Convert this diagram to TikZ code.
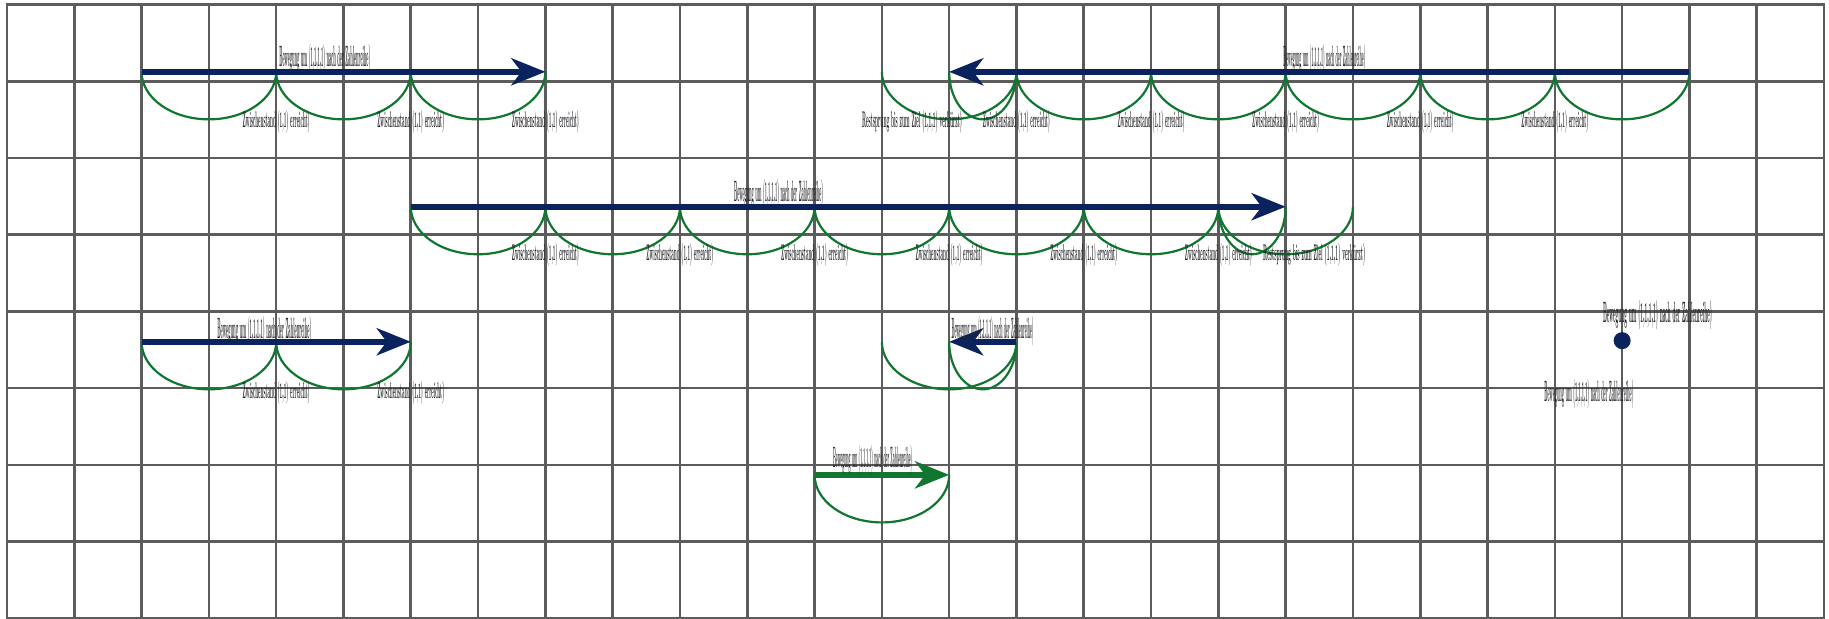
\documentclass[tikz,border=0pt]{standalone}
\usetikzlibrary{arrows.meta}

\definecolor{navyblue}{RGB}{10,35,95}
\definecolor{hopgreen}{RGB}{16,118,48}
\definecolor{gridgray}{RGB}{92,92,92}
\definecolor{inkgray}{RGB}{35,35,40}

% squeezed caption over an arrow, and squeezed value under a hop
\newcommand{\movetext}[1]{\resizebox{#1}{11pt}{\bfseries Bewegung um (1,1,1,1) nach der Zahlenreihe)}}
\newcommand{\hoptext}[1]{\resizebox{#1}{8.5pt}{\bfseries Zwischenstand (1,1) erreicht)}}
\newcommand{\resttext}[1]{\resizebox{#1}{8.5pt}{\bfseries Restsprung bis zum Ziel (1,1,1) verkürzt)}}
% one hop: half ellipse under the line from column #1 to column #2 at level #3
\newcommand{\hop}[3]{\draw[hopline] (#1,#3) arc[start angle=180,end angle=0,x radius={((#2)-(#1))/2},y radius=0.62];}

\begin{document}
\begin{tikzpicture}[x=33.65pt,y=-38.35pt,
  gridline/.style={draw=gridgray,line width=1.3pt,line cap=rect},
  hopline/.style={draw=hopgreen,line width=1.1pt},
  shaft/.style={line width=2.9pt,-{Stealth[length=17pt,width=13.5pt,inset=5pt]}},
  bluearrow/.style={shaft,color=navyblue},
  greenarrow/.style={shaft,color=hopgreen},
  toplbl/.style={anchor=base west,inner sep=0pt,text=inkgray},
  hoplbl/.style={anchor=base,inner sep=0pt,text=inkgray}]

\useasboundingbox (-0.104,-0.0613) rectangle (27.074,8.009);

% background grid
\foreach \i in {0,...,27} \draw[gridline] (\i,0) -- (\i,8);
\foreach \j in {0,...,8} \draw[gridline] (0,\j) -- (27,\j);

\def\ya{0.875}
\def\yb{2.634}
\def\yc{4.395}
\def\yd{6.13}

% hops
\hop{2}{4}{\ya} \hop{4}{6}{\ya} \hop{6}{8}{\ya}
\hop{23}{25}{\ya} \hop{21}{23}{\ya} \hop{19}{21}{\ya} \hop{17}{19}{\ya}
\hop{15}{17}{\ya} \hop{13}{15}{\ya} \hop{14}{15}{\ya}
\hop{6}{8}{\yb} \hop{8}{10}{\yb} \hop{10}{12}{\yb} \hop{12}{14}{\yb}
\hop{14}{16}{\yb} \hop{16}{18}{\yb} \hop{18}{20}{\yb} \hop{18}{19}{\yb}
\hop{2}{4}{\yc} \hop{4}{6}{\yc}
\hop{13}{15}{\yc} \hop{14}{15}{\yc}
\hop{12}{14}{\yd}

% arrows
\coordinate (a1s) at (2,\ya);  \coordinate (a1e) at (8,\ya);
\coordinate (a2s) at (25,\ya); \coordinate (a2e) at (14,\ya);
\coordinate (a3s) at (6,\yb);  \coordinate (a3e) at (19,\yb);
\coordinate (a4s) at (2,\yc);  \coordinate (a4e) at (6,\yc);
\coordinate (a5s) at (15,\yc); \coordinate (a5e) at (14,\yc);
\coordinate (a6s) at (12,\yd); \coordinate (a6e) at (14,\yd);
\draw[bluearrow] (a1s) -- (a1e);
\draw[bluearrow] (a2s) -- (a2e);
\draw[bluearrow] (a3s) -- (a3e);
\draw[bluearrow] (a4s) -- (a4e);
\draw[bluearrow] (a5s) -- (a5e);
\draw[greenarrow] (a6s) -- (a6e);

% single point
\node[circle,fill=navyblue,inner sep=0pt,minimum size=8.5pt] (pt) at (24,4.38) {};

% captions
\node[toplbl] (t1) at (4.04,0.812)  {\movetext{45.5pt}};
\node[toplbl] (t2) at (18.96,0.812) {\movetext{41pt}};
\node[toplbl] (t3) at (10.80,2.572) {\movetext{44.5pt}};
\node[toplbl] (t4) at (3.12,4.346)  {\movetext{47pt}};
\node[toplbl] (t5) at (14.03,4.346) {\movetext{41pt}};
\node[toplbl] (tp) at (23.71,4.15)  {\movetext{54.5pt}};
\node[toplbl] (bp) at (22.84,5.18)  {\movetext{44.5pt}};
\node[toplbl] (tg) at (12.27,6.03)  {\movetext{39.5pt}};

% hop values
\foreach \c in {4,6,8} \node[hoplbl] (ha\c) at (\c,\ya+0.72) {\hoptext{33.5pt}};
\foreach \c in {15,17,19,21,23} \node[hoplbl] (hb\c) at (\c,\ya+0.72) {\hoptext{33.5pt}};
\node[toplbl] (hbr) at (12.70,\ya+0.72) {\resttext{50pt}};
\foreach \c in {8,10,12,14,16,18} \node[hoplbl] (hc\c) at (\c,\yb+0.70) {\hoptext{33.5pt}};
\node[toplbl] (hcr) at (18.66,\yb+0.70) {\resttext{51pt}};
\foreach \c in {4,6} \node[hoplbl] (hd\c) at (\c,\yc+0.74) {\hoptext{33.5pt}};
\end{tikzpicture}
\end{document}
